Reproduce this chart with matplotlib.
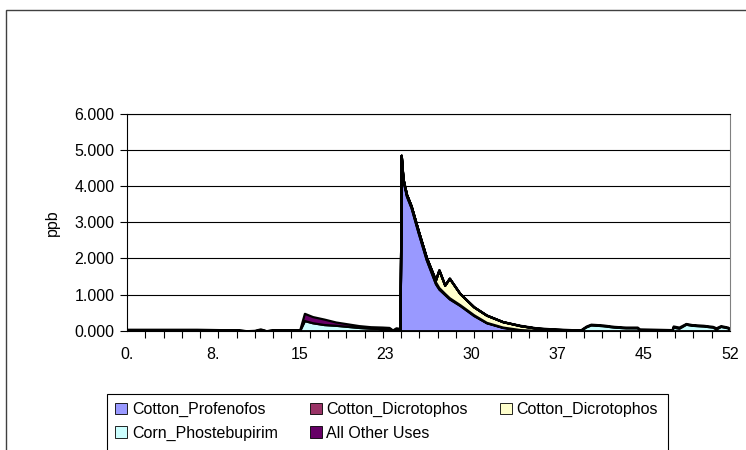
import numpy as np
import matplotlib.pyplot as plt
from matplotlib.patches import Rectangle

plt.rcParams['font.family'] = ['Liberation Sans', 'DejaVu Sans']
plt.rcParams['font.size'] = 11.5

# semanas
semanas = [0, 2, 4, 6, 8, 9.5, 10.3, 11.0, 11.5, 12.0, 12.6, 14.9, 15.3, 16.0,
           17.0, 18.0, 19.0, 20.0, 21.0, 22.0, 22.6, 22.9, 23.2, 23.55, 23.65,
           23.8, 24.1, 24.5, 25.1, 25.8, 26.6, 26.9, 27.4, 27.8, 28.7, 29.9,
           31.0, 32.4, 33.9, 35.3, 36.8, 39.1, 39.6, 40.0, 41.0, 42.0, 43.0,
           44.0, 44.2, 47.0, 47.1, 47.6, 48.2, 48.7, 49.7, 50.5, 50.8, 51.2,
           51.8, 52]

# series (ppb)
profenofos = [0, 0, 0, 0, 0, 0, 0, 0, 0, 0, 0, 0, 0, 0,
              0, 0, 0, 0, 0, 0, 0, 0, 0, 0, 4.80,
              4.15, 3.72, 3.40, 2.72, 1.97, 1.30, 1.15, 1.00, 0.88, 0.70, 0.42,
              0.22, 0.09, 0.03, 0.01, 0, 0, 0, 0, 0, 0, 0,
              0, 0, 0, 0, 0, 0, 0, 0, 0, 0, 0,
              0, 0]
dicrotophos_a = [0, 0, 0, 0, 0, 0, 0, 0, 0, 0, 0, 0, 0, 0,
                 0, 0, 0, 0, 0, 0, 0, 0, 0, 0, 0.05,
                 0.05, 0.05, 0.05, 0.06, 0.06, 0.05, 0.04, 0.03, 0.03, 0.02, 0.02,
                 0.01, 0.01, 0, 0, 0, 0, 0, 0, 0, 0, 0,
                 0, 0, 0, 0, 0, 0, 0, 0, 0, 0, 0,
                 0, 0]
dicrotophos_b = [0, 0, 0, 0, 0, 0, 0, 0, 0, 0, 0, 0, 0, 0,
                 0, 0, 0, 0, 0, 0, 0, 0, 0, 0, 0,
                 0, 0, 0, 0, 0.01, 0.05, 0.49, 0.23, 0.54, 0.31, 0.22,
                 0.20, 0.15, 0.11, 0.06, 0.03, 0, 0, 0, 0, 0, 0,
                 0, 0, 0, 0, 0, 0, 0, 0, 0, 0, 0,
                 0, 0]
corn = [0.01, 0.01, 0.01, 0.01, 0.01, 0.01, 0, 0, 0.02, 0, 0.01, 0.01, 0.28, 0.22,
        0.17, 0.15, 0.12, 0.09, 0.07, 0.06, 0.05, 0.01, 0.05, 0.04, 0,
        0, 0, 0, 0, 0, 0, 0, 0, 0, 0, 0,
        0, 0, 0, 0, 0.01, 0.01, 0.11, 0.16, 0.14, 0.10, 0.08,
        0.08, 0.02, 0.01, 0.10, 0.07, 0.18, 0.15, 0.13, 0.10, 0.05, 0.12,
        0.08, 0.03]
otros = [0.03, 0.03, 0.03, 0.03, 0.02, 0.02, 0, 0.01, 0.03, 0, 0.02, 0.02, 0.20, 0.17,
         0.15, 0.09, 0.07, 0.05, 0.04, 0.04, 0.04, 0.01, 0.03, 0.02, 0,
         0, 0, 0, 0, 0, 0, 0, 0, 0, 0, 0,
         0, 0, 0.01, 0.01, 0.01, 0.01, 0.02, 0.02, 0.02, 0.02, 0.02,
         0.02, 0.03, 0.02, 0.03, 0.03, 0.02, 0.02, 0.02, 0.02, 0.03, 0.02,
         0.02, 0.02]

nomes = ['Cotton_Profenofos', 'Cotton_Dicrotophos', 'Cotton_Dicrotophos',
         'Corn_Phostebupirim', 'All Other Uses']
cores = ['#9999FF', '#993366', '#FFFFCC', '#CCFFFF', '#660066']

rotulos_x = ['0.', '8.', '15', '23', '30', '37', '45', '52']

fig = plt.figure(figsize=(7.46, 4.5), dpi=100)
ax = fig.add_axes([127/746, 1 - 330.7/450, 603/746, 217/450])

polys = ax.stackplot(semanas, profenofos, dicrotophos_a, dicrotophos_b, corn, otros,
                     colors=cores, labels=nomes, edgecolor='black', linewidth=1.6)

ax.set_xlim(0, 52)
ax.set_ylim(0, 6)
ax.set_yticks(np.arange(0, 7, 1))
ax.set_yticklabels(['%.3f' % v for v in range(7)])
ax.set_xticks(np.linspace(0, 52, 8))
ax.set_xticklabels(rotulos_x)
ax.set_xticks(np.linspace(0, 52, 34), minor=True)
ax.tick_params(axis='x', which='major', length=0, pad=12)
ax.tick_params(axis='x', which='minor', length=5, width=0.8)
ax.tick_params(axis='y', length=5, width=0.8, pad=4)
ax.grid(axis='y', color='black', linewidth=0.8)
ax.set_axisbelow(True)

for s in ['left', 'bottom', 'top']:
    ax.spines[s].set_color('black')
    ax.spines[s].set_linewidth(0.8)
ax.spines['right'].set_color('#808080')

ax.set_ylabel('ppb')
ax.yaxis.set_label_coords(-0.111, 0.5)

# Legenda (ordem por linhas)
ordem = [0, 3, 1, 4, 2]
hs = [polys[i] for i in ordem]
ls = [nomes[i] for i in ordem]
leg = fig.legend(hs, ls, ncol=3, loc='upper left',
                 bbox_to_anchor=(107/746, 1 - 394/450),
                 frameon=False,
                 handlelength=0.75, handleheight=0.75, handletextpad=0.3,
                 columnspacing=2.0, labelspacing=0.55, borderpad=0.5,
                 borderaxespad=0)
for h in leg.legend_handles:
    h.set_linewidth(0.6)

# caixa da legenda (cortada embaixo, como no original)
fig.add_artist(Rectangle((107/746, -0.1), 561/746, 0.1 + 1 - 394/450,
                         transform=fig.transFigure, fill=False,
                         edgecolor='black', linewidth=0.8))

# moldura do gráfico
fig.add_artist(Rectangle((5.5/746, -0.2), 2, 1.2 - 10/450, transform=fig.transFigure,
                         fill=False, edgecolor='#404040', linewidth=1))

plt.savefig('out.png', dpi=100)
